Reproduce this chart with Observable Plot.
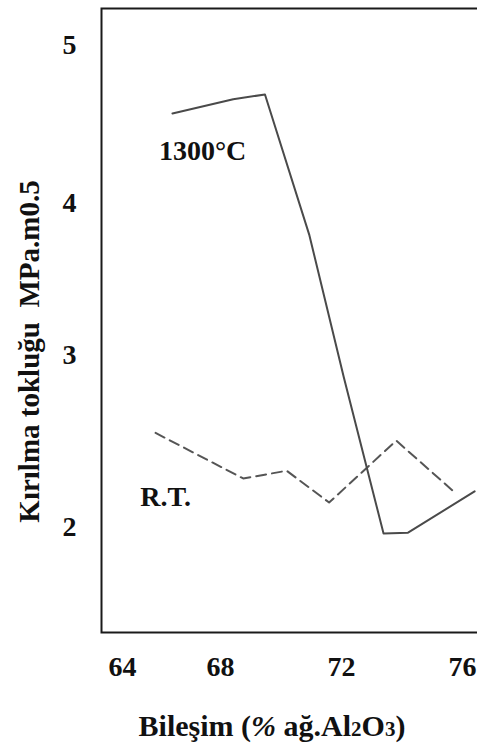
<!DOCTYPE html>
<html>
<head>
<meta charset="utf-8">
<script src="https://cdn.jsdelivr.net/npm/d3@7"></script>
<script src="https://cdn.jsdelivr.net/npm/@observablehq/plot@0.6"></script>
<style>
  html, body { margin: 0; padding: 0; background: #fff; overflow: hidden; }
  #wrap { position: relative; width: 477px; height: 743px; overflow: hidden; }
  #chart svg { max-width: none !important; width: 500px !important; height: 690px !important; }
  #xtitle { position: absolute; left: 272px; top: 709px; transform: translateX(-50%);
    font-family: "Liberation Serif", "Times New Roman", serif; font-weight: bold; font-size: 30px;
    color: #111; white-space: nowrap; line-height: 1.1; }
  #xtitle .s { font-size: 21px; }
</style>
</head>
<body>
<div id="wrap">
  <div id="chart"></div>
  <div id="xtitle">Bileşim (<i style="font-style:italic">%</i> ağ.Al<span class="s">2</span>O<span class="s">3</span>)</div>
</div>
<script>
// Data
const xTicks = [64, 68, 72, 76];
const yTicks = [2, 3, 4, 5];

const hot_x = [66.04, 68.42, 69.47, 70.94, 72.08, 73.39, 74.2, 76.4];
const hot_y = [4.57, 4.66, 4.69, 3.79, 2.87, 1.965, 1.97, 2.21];

const rt_x = [65.35, 68.75, 70.19, 71.59, 73.81, 75.77];
const rt_y = [2.55, 2.285, 2.33, 2.145, 2.505, 2.2];

const labelText = ["1300°C", "R.T."];
const labelX = [67.27, 65.76];
const labelY = [4.33, 2.18];

const yTitle = "Kırılma tokluğu  MPa.m0.5";

const hot = hot_x.map((x, i) => ({x, y: hot_y[i]}));
const rt = rt_x.map((x, i) => ({x, y: rt_y[i]}));
const labels = labelText.map((t, i) => ({t, x: labelX[i], y: labelY[i]}));

const chart = Plot.plot({
  width: 500,
  height: 690,
  marginLeft: 101,
  marginRight: 0,
  marginTop: 8,
  marginBottom: 58,
  style: {fontFamily: "'Liberation Serif', 'Times New Roman', serif", fontSize: "28px", fontWeight: "bold", color: "#111", background: "#fff"},
  x: {type: "linear", domain: [64, 68, 76], range: [122, 220, 462]},
  y: {type: "linear", domain: [2, 3, 4, 5], range: [527, 355, 203, 45]},
  marks: [
    Plot.frame({stroke: "#1a1a1a", strokeWidth: 2}),
    Plot.axisX({ticks: xTicks, tickSize: 0, tickPadding: 24, label: null, tickFormat: d => String(d)}),
    Plot.axisY({ticks: yTicks, tickSize: 0, tickPadding: 32, textAnchor: "middle", label: null, tickFormat: d => String(d)}),
    Plot.line(rt, {x: "x", y: "y", stroke: "#555", strokeWidth: 2, strokeDasharray: "10,6"}),
    Plot.line(hot, {x: "x", y: "y", stroke: "#4a4a4a", strokeWidth: 2}),
    Plot.text(labels, {x: "x", y: "y", text: "t", fill: "#111", fontSize: 28, fontWeight: "bold"}),
    Plot.text([yTitle], {frameAnchor: "left", rotate: -90, textAnchor: "middle", dx: -72, dy: 31, fill: "#111", fontSize: 29, fontWeight: "bold"})
  ]
});
document.getElementById("chart").appendChild(chart);
</script>
</body>
</html>
